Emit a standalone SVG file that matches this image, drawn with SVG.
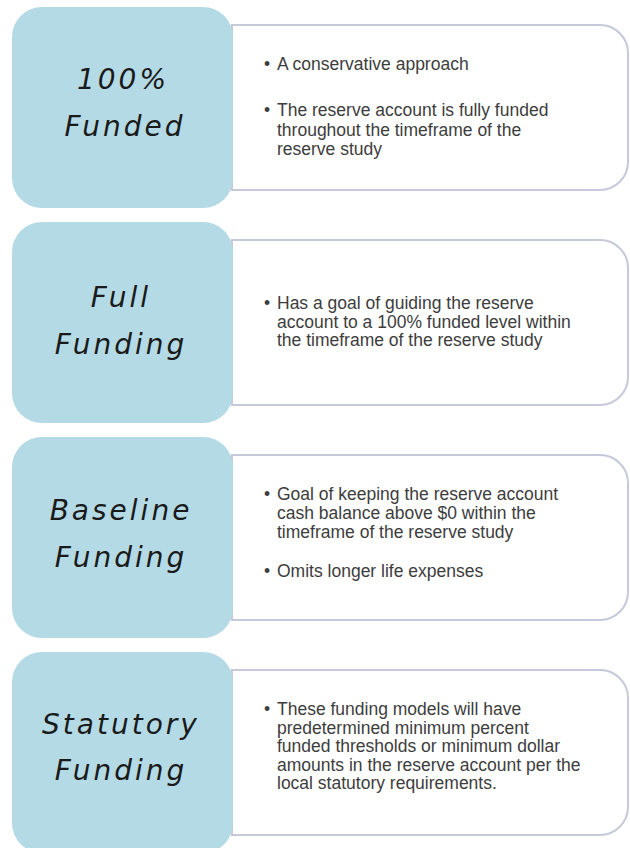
<svg xmlns="http://www.w3.org/2000/svg" width="630" height="848" viewBox="0 0 630 848">
<style>
.bg{fill:#ffffff}
.card{fill:#ffffff;stroke:#c6c9d9;stroke-width:2}
.tab{fill:#b4dae5}
.title{font-family:"DejaVu Sans",sans-serif;font-style:italic;font-size:28px;letter-spacing:3px;fill:#1a1a1a;text-anchor:middle}
.body{font-family:"Liberation Sans",Arial,sans-serif;font-size:17.5px;fill:#3d3d3d}
</style>
<rect class="bg" x="0" y="0" width="630" height="848"/>
<g id="row1">
<path class="card" d="M232,25 H600 A28,28 0 0 1 628,53 V162 A28,28 0 0 1 600,190 H232 Z"/>
<rect class="tab" x="12" y="7" width="221" height="201" rx="30"/>
<text class="title" x="123" y="89">100%</text>
<text class="title" x="125" y="136">Funded</text>
<text class="body" x="264" y="70">•</text>
<text class="body" x="277" y="70">A conservative approach</text>
<text class="body" x="264" y="116">•</text>
<text class="body" x="277" y="116">The reserve account is fully funded</text>
<text class="body" x="277" y="135.5">throughout the timeframe of the</text>
<text class="body" x="277" y="155">reserve study</text>
</g>
<g id="row2">
<path class="card" d="M232,240 H600 A28,28 0 0 1 628,268 V377 A28,28 0 0 1 600,405 H232 Z"/>
<rect class="tab" x="12" y="222" width="221" height="201" rx="30"/>
<text class="title" x="121" y="307">Full</text>
<text class="title" x="121" y="354">Funding</text>
<text class="body" x="264" y="309">•</text>
<text class="body" x="277" y="309">Has a goal of guiding the reserve</text>
<text class="body" x="277" y="327.5">account to a 100% funded level within</text>
<text class="body" x="277" y="346">the timeframe of the reserve study</text>
</g>
<g id="row3">
<path class="card" d="M232,455 H600 A28,28 0 0 1 628,483 V592 A28,28 0 0 1 600,620 H232 Z"/>
<rect class="tab" x="12" y="437" width="221" height="201" rx="30"/>
<text class="title" x="121" y="520">Baseline</text>
<text class="title" x="121" y="567">Funding</text>
<text class="body" x="264" y="500">•</text>
<text class="body" x="277" y="500">Goal of keeping the reserve account</text>
<text class="body" x="277" y="519">cash balance above $0 within the</text>
<text class="body" x="277" y="538">timeframe of the reserve study</text>
<text class="body" x="264" y="577">•</text>
<text class="body" x="277" y="577">Omits longer life expenses</text>
</g>
<g id="row4">
<path class="card" d="M232,670 H600 A28,28 0 0 1 628,698 V807 A28,28 0 0 1 600,835 H232 Z"/>
<rect class="tab" x="12" y="652" width="221" height="201" rx="30"/>
<text class="title" x="121" y="734">Statutory</text>
<text class="title" x="121" y="780">Funding</text>
<text class="body" x="264" y="715">•</text>
<text class="body" x="277" y="715">These funding models will have</text>
<text class="body" x="277" y="733.5">predetermined minimum percent</text>
<text class="body" x="277" y="752">funded thresholds or minimum dollar</text>
<text class="body" x="277" y="770.5">amounts in the reserve account per the</text>
<text class="body" x="277" y="789">local statutory requirements.</text>
</g>
<g id="connectors"></g>
</svg>
